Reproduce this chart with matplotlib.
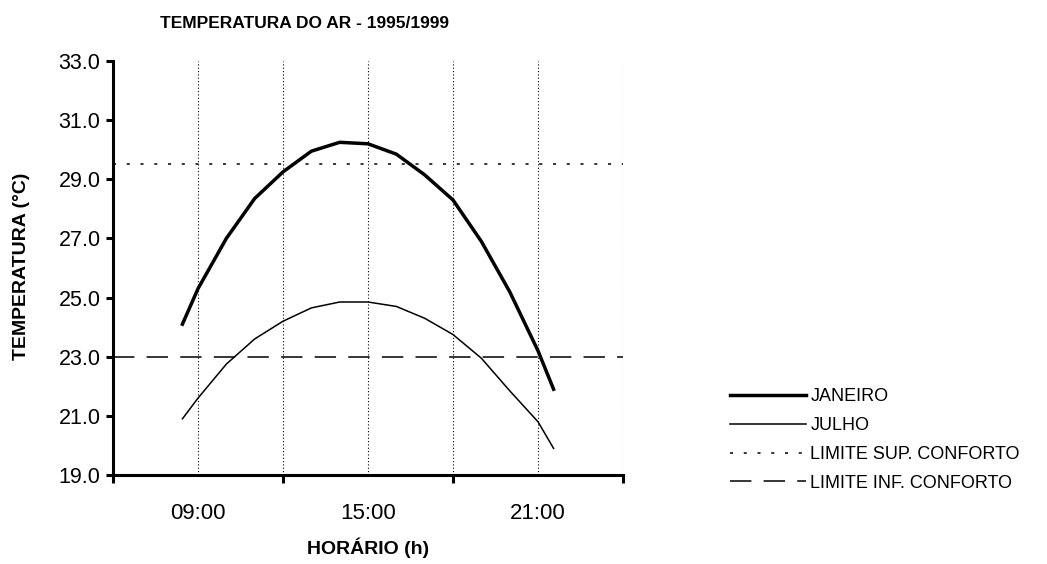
import matplotlib
matplotlib.use("Agg")
import matplotlib.pyplot as plt

plt.rcParams['font.family'] = ['Liberation Sans', 'DejaVu Sans']

# Data (hours of day and temperatures)
hours = [8.45, 9, 10, 11, 12, 13, 14, 15, 16, 17, 18, 19, 20, 21, 21.55]
janeiro = [24.1, 25.3, 27.0, 28.35, 29.25, 29.95, 30.25, 30.2, 29.85, 29.15, 28.3, 26.9, 25.2, 23.2, 21.9]
julho = [20.9, 21.6, 22.75, 23.6, 24.2, 24.65, 24.85, 24.85, 24.7, 24.3, 23.75, 22.95, 21.85, 20.8, 19.9]
limite_sup = 29.5
limite_inf = 23.0

xtick_pos = [9, 15, 21]
xtick_labels = ["09:00", "15:00", "21:00"]
grid_pos = [9, 12, 15, 18, 21, 24]
major_ticks = [6, 12, 18, 24]
ytick_vals = [19.0, 21.0, 23.0, 25.0, 27.0, 29.0, 31.0, 33.0]

fig = plt.figure(figsize=(10.47, 5.64), dpi=100)
ax = fig.add_axes([113/1047, 1-475/564, (623-113)/1047, (475-61)/564])

ax.set_xlim(6, 24)
ax.set_ylim(19, 33)

for g in grid_pos:
    ax.axvline(g, color='black', lw=0.8, ls=(0, (1, 2)), zorder=1)

l1, = ax.plot(hours, janeiro, color='black', lw=2.5, label='JANEIRO', zorder=3,
              solid_joinstyle='round')
l2, = ax.plot(hours, julho, color='black', lw=1.1, label='JULHO', zorder=3,
              solid_joinstyle='round')
l3 = ax.axhline(limite_sup, color='black', lw=1.1, ls=(0, (2, 7)), label='LIMITE SUP. CONFORTO', zorder=2)
l4 = ax.axhline(limite_inf, color='black', lw=1.1, ls=(0, (14, 8)), label='LIMITE INF. CONFORTO', zorder=2)

for s in ['top', 'right']:
    ax.spines[s].set_visible(False)
for s in ['left', 'bottom']:
    ax.spines[s].set_linewidth(2.2)

ax.set_xticks(major_ticks)
ax.set_xticklabels([])
ax.tick_params(axis='x', which='major', direction='out', length=6, width=2.2)
ax.set_xticks(xtick_pos, minor=True)
ax.set_xticklabels(xtick_labels, minor=True, fontsize=16)
ax.tick_params(axis='x', which='minor', length=0, pad=20)

ax.set_yticks(ytick_vals)
ax.set_yticklabels([f"{v:.1f}" for v in ytick_vals], fontsize=15.5)
ax.tick_params(axis='y', direction='out', length=5, width=2.2, pad=4)

fig.text(305/1047, 1-23/564, "TEMPERATURA DO AR - 1995/1999", ha='center', va='center',
         fontsize=12.5, fontweight='bold')
fig.text(22/1047, 1-266/564, "TEMPERATURA (°C)", ha='center', va='center', rotation=90,
         fontsize=14, fontweight='bold')
fig.text(368/1047, 1-548/564, "HORÁRIO (h)", ha='center', va='center',
         fontsize=14, fontweight='bold')

fig.legend(handles=[l1, l2, l3, l4], loc='center left',
           bbox_to_anchor=(730/1047, 1-440/564), frameon=False, fontsize=13,
           handlelength=4.2, handletextpad=0.25, labelspacing=0.65,
           borderpad=0, borderaxespad=0)

fig.savefig("out.png", dpi=100)
